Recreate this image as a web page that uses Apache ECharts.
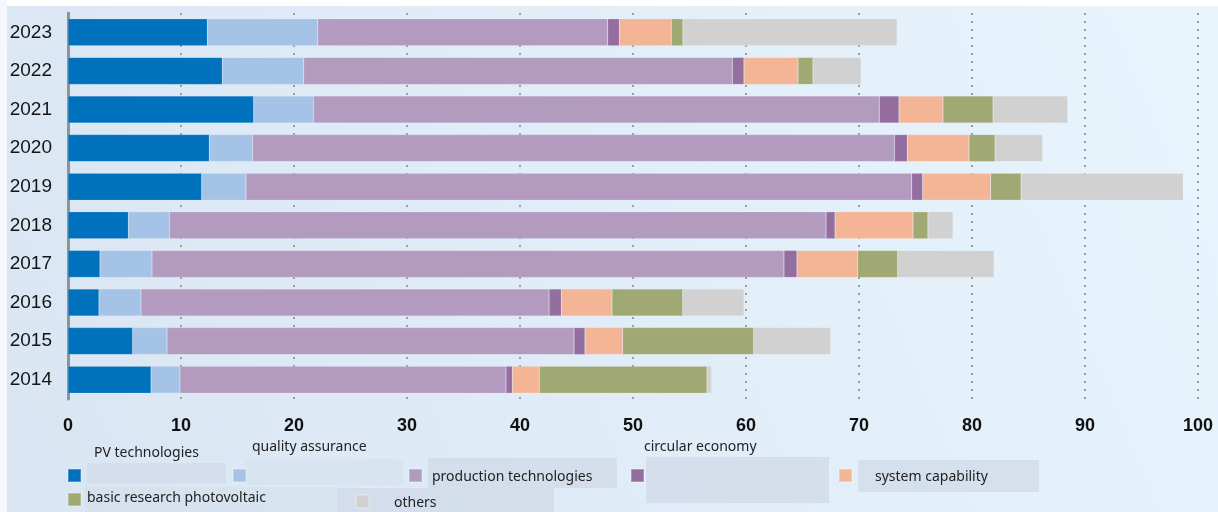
<!DOCTYPE html>
<html>
<head>
<meta charset="utf-8">
<script src="https://cdn.jsdelivr.net/npm/echarts@6/dist/echarts.min.js"></script>
<style>
html,body{margin:0;padding:0;background:#fff;}
#chart{width:1218px;height:512px;}
</style>
</head>
<body>
<div id="chart"></div>
<script>
// ---- data ----
const years = ['2014','2015','2016','2017','2018','2019','2020','2021','2022','2023'];
const seriesNames = ['PV technologies','quality assurance','production technologies','circular economy','system capability','basic research photovoltaic','others'];
const seriesColors = ['#0071BC','#A4C3E6','#B39BC0','#936E9F','#F4B596','#A0A873','#D0D1D0'];
const pvTechnologies      = [7.35, 5.72, 2.74, 2.83, 5.34, 11.83, 12.50, 16.43, 13.66, 12.33];
const qualityAssurance    = [2.56, 3.04, 3.72, 4.60, 3.63, 3.92, 3.84, 5.28, 7.20, 9.77];
const productionTech      = [28.85, 36.02, 36.11, 55.93, 58.11, 58.91, 56.79, 50.09, 37.93, 25.66];
const circularEconomy     = [0.56, 0.97, 1.08, 1.15, 0.80, 0.97, 1.14, 1.74, 1.03, 1.03];
const systemCapability    = [2.39, 3.34, 4.49, 5.37, 6.90, 6.02, 5.46, 3.89, 4.78, 4.60];
const basicResearch       = [14.84, 11.59, 6.26, 3.54, 1.32, 2.69, 2.31, 4.43, 1.33, 1.03];
const others              = [0.41, 6.81, 5.42, 8.53, 2.22, 14.36, 4.21, 6.61, 4.25, 18.94];
const xTicks = [0,10,20,30,40,50,60,70,80,90,100];

const seriesValues = [pvTechnologies, qualityAssurance, productionTech, circularEconomy, systemCapability, basicResearch, others];

// ---- legend layout (positions only) ----
const legendSquares = [
  {x:67, y:468}, {x:232, y:468}, {x:408, y:468}, {x:630, y:468},
  {x:838, y:468}, {x:67, y:492}, {x:355, y:494}
];
const legendLabels = [
  {x:94, y:453}, {x:252, y:447}, {x:432, y:477}, {x:644, y:447},
  {x:875, y:477}, {x:87, y:498}, {x:394, y:503}
];
const legendBoxes = [
  [87,463,139,20,0.55],[245,459,158,26,0.25],[428,458,189,30,0.6],[646,457,183,46,0.6],
  [858,460,181,32,0.6],[85,487,255,25,0.3],[338,488,216,24,0.6]
];

const chart = echarts.init(document.getElementById('chart'), null, {renderer:'canvas'});

const graphics = [
  {type:'rect', z:-10, shape:{x:0,y:0,width:1218,height:6}, style:{fill:'#ffffff'}, silent:true},
  {type:'rect', z:-10, shape:{x:0,y:0,width:7,height:512}, style:{fill:'#f4f7fb'}, silent:true}
];
legendBoxes.forEach(b=>{
  graphics.push({type:'rect', z:-5, shape:{x:b[0],y:b[1],width:b[2],height:b[3]},
    style:{fill:'rgba(205,214,228,'+b[4]+')'}, silent:true});
});
legendLabels.forEach((p,i)=>{
  graphics.push({type:'text', z:5, x:p.x, y:p.y, style:{text:seriesNames[i], fill:'#222',
    font:'14px "Noto Sans", sans-serif', textAlign:'left', textVerticalAlign:'middle'}, silent:true});
});

const legends = seriesNames.map((n,i)=>({
  data:[n], left:legendSquares[i].x, top:legendSquares[i].y, padding:0,
  icon:'rect', itemWidth:13, itemHeight:13, formatter:()=>'', selectedMode:false,
  textStyle:{fontSize:1}
}));

chart.setOption({
  animation:false,
  backgroundColor:new echarts.graphic.LinearGradient(0,1,1,0,[
    {offset:0,color:'#D9E5F2'},{offset:1,color:'#E8F5FD'}
  ]),
  color:seriesColors,
  graphic:graphics,
  legend:legends,
  grid:{left:68, right:20, top:13, bottom:113, containLabel:false},
  xAxis:{
    type:'value', min:xTicks[0], max:xTicks[xTicks.length-1], interval:10,
    axisLine:{show:false}, axisTick:{show:false},
    axisLabel:{fontSize:18, fontWeight:'bold', color:'#111', margin:18, fontFamily:'"Liberation Sans", sans-serif'},
    splitLine:{show:true, lineStyle:{color:'#999ea4', width:2, type:[2,6]}}
  },
  yAxis:{
    type:'category', data:years,
    axisLine:{show:true, lineStyle:{color:'#8f9296', width:3}},
    axisTick:{show:false},
    axisLabel:{fontSize:19, color:'#141414', margin:16, fontFamily:'"Liberation Sans", sans-serif'},
    splitLine:{show:false}
  },
  series:seriesValues.map((vals,i)=>({
    name:seriesNames[i], type:'bar', stack:'total', data:vals, barWidth:27,
    itemStyle:{color:seriesColors[i], borderColor:'rgba(255,255,255,0.25)', borderWidth:0.5}
  }))
});
</script>
</body>
</html>
